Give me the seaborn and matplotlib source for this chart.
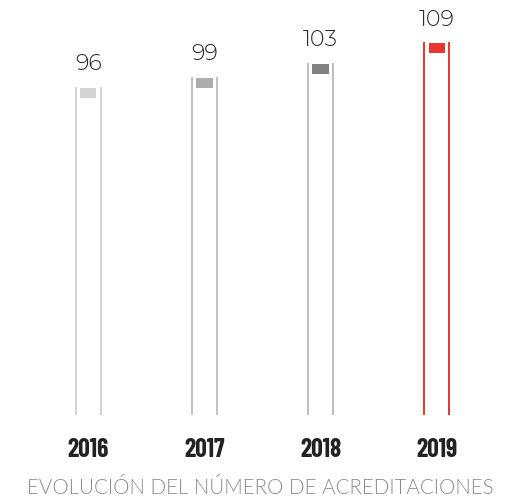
import matplotlib
matplotlib.use('Agg')
import matplotlib.pyplot as plt
import seaborn as sns

# datos
years = ['2016', '2017', '2018', '2019']
values = [96, 99, 103, 109]
cap_colors = ['#d4d4d4', '#adadad', '#818181', '#e8352d']
line_colors = ['#d2d2d2', '#c2c2c2', '#bdbdbd', '#e8352d']
title = 'EVOLUCIÓN DEL NÚMERO DE ACREDITACIONES'

sns.set_style('white')
plt.rcParams['font.family'] = ['Lato', 'DejaVu Sans']

fig = plt.figure(figsize=(5.21, 5.02), dpi=100)
ax = fig.add_axes([30 / 521, (502 - 416) / 502, 465 / 521, 416 / 502])

# barras invisibles para la geometria
sns.barplot(x=years, y=values, ax=ax, width=0.215, facecolor='none',
            linewidth=0)

cap = 2.9
for p, v, lc, cc in zip(ax.patches, values, line_colors, cap_colors):
    x0 = p.get_x()
    x1 = x0 + p.get_width()
    xc = x0 + p.get_width() / 2
    ax.vlines([x0, x1], 0, v, colors=lc, linewidth=1.4)
    ax.bar(xc, cap, bottom=v - cap - 0.3, width=0.14, color=cc, linewidth=0)
    ax.annotate(str(v), (xc, v), xytext=(0, 10), textcoords='offset points',
                ha='center', va='bottom', fontsize=16, color='#2a2a2a',
                family=['Montserrat Alternates', 'DejaVu Sans'], fontweight=300)

ax.set_xlim(-0.5, 3.5)
ax.set_ylim(0, 121.7)
ax.set_yticks([])
ax.tick_params(axis='x', length=0, pad=16)
for lab in ax.get_xticklabels():
    lab.set_fontfamily(['Barlow Condensed', 'DejaVu Sans'])
    lab.set_fontweight('bold')
    lab.set_fontsize(18.5)
    lab.set_color('#222222')
sns.despine(ax=ax, left=True, bottom=True)

fig.text(0.5, (502 - 488) / 502, title, ha='center', va='center',
         fontsize=14.8, color='#8a8a8a', fontweight=300)

fig.savefig('out.png', dpi=100)
